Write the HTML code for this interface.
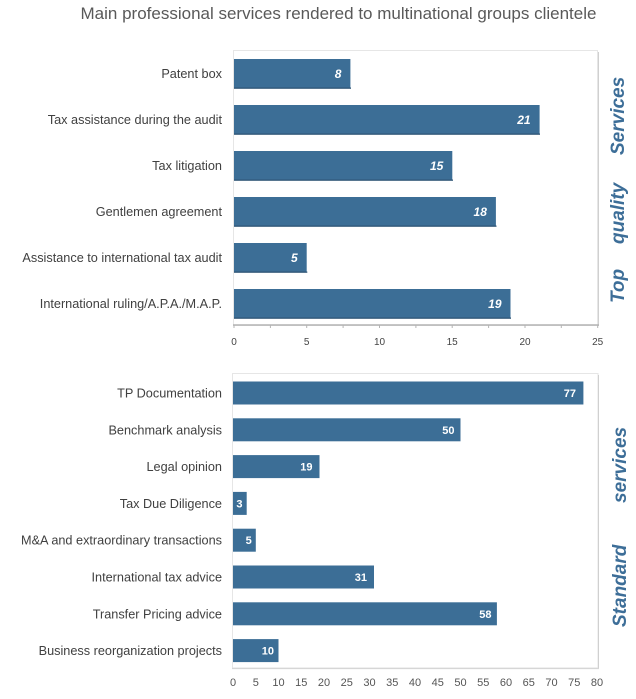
<!DOCTYPE html>
<html><head><meta charset="utf-8"><style>
html,body{margin:0;padding:0;background:#fff;}
svg{display:block;}
text{font-family:"Liberation Sans",Arial,sans-serif;}
</style></head><body>
<svg width="636" height="699" viewBox="0 0 636 699" xmlns="http://www.w3.org/2000/svg">
<rect width="636" height="699" fill="#fff"/>
<text x="338.5" y="19" font-size="17" fill="#595959" text-anchor="middle">Main professional services rendered to multinational groups clientele</text>

<!-- Top chart box -->
<rect x="233.5" y="50.5" width="364" height="275" fill="#fff" stroke="#e6e6e6" stroke-width="1"/>
<line x1="598.5" y1="52" x2="598.5" y2="326" stroke="#d0d0d0" stroke-width="1"/>
<line x1="233" y1="325" x2="599" y2="325" stroke="#b4b4b4" stroke-width="1.6"/>
<g stroke="#b4b4b4" stroke-width="1">
<line x1="234" y1="325" x2="234" y2="328"/>
<line x1="270.4" y1="325" x2="270.4" y2="328"/>
<line x1="306.7" y1="325" x2="306.7" y2="328"/>
<line x1="343.1" y1="325" x2="343.1" y2="328"/>
<line x1="379.5" y1="325" x2="379.5" y2="328"/>
<line x1="415.9" y1="325" x2="415.9" y2="328"/>
<line x1="452.2" y1="325" x2="452.2" y2="328"/>
<line x1="488.6" y1="325" x2="488.6" y2="328"/>
<line x1="525" y1="325" x2="525" y2="328"/>
<line x1="561.3" y1="325" x2="561.3" y2="328"/>
<line x1="597.7" y1="325" x2="597.7" y2="328"/>
</g>
<g font-size="10" fill="#444" text-anchor="middle">
<text x="234" y="345">0</text>
<text x="306.7" y="345">5</text>
<text x="379.5" y="345">10</text>
<text x="452.2" y="345">15</text>
<text x="525" y="345">20</text>
<text x="597.7" y="345">25</text>
</g>

<g fill="#3c6e96">
<rect x="234" y="59" width="116.4" height="29"/>
<rect x="234" y="105" width="305.6" height="29"/>
<rect x="234" y="151" width="218.3" height="29"/>
<rect x="234" y="197" width="261.9" height="29"/>
<rect x="234" y="243" width="72.7" height="29"/>
<rect x="234" y="289" width="276.5" height="29"/>
</g>
<g fill="#2e5475">
<rect x="234" y="87.5" width="117" height="1.3"/>
<rect x="234" y="133.5" width="306" height="1.3"/>
<rect x="234" y="179.5" width="219" height="1.3"/>
<rect x="234" y="225.5" width="262.5" height="1.3"/>
<rect x="234" y="271.5" width="73.3" height="1.3"/>
<rect x="234" y="317.5" width="277" height="1.3"/>
</g>
<g font-size="12" font-weight="bold" font-style="italic" fill="#fff" text-anchor="end">
<text x="341.4" y="78">8</text>
<text x="530.6" y="124">21</text>
<text x="443.3" y="170">15</text>
<text x="486.9" y="216">18</text>
<text x="297.7" y="262">5</text>
<text x="501.5" y="308">19</text>
</g>
<g font-size="12.7" fill="#404040" text-anchor="end">
<text x="222" y="78">Patent box</text>
<text x="222" y="124">Tax assistance during the audit</text>
<text x="222" y="170">Tax litigation</text>
<text x="222" y="216">Gentlemen agreement</text>
<text x="222" y="262">Assistance to international tax audit</text>
<text x="222" y="308">International ruling/A.P.A./M.A.P.</text>
</g>

<g font-size="19" font-weight="bold" font-style="italic" fill="#3d6e98">
<text transform="translate(624,303) rotate(-90)">Top</text>
<text transform="translate(624,244) rotate(-90)">quality</text>
<text transform="translate(624,155) rotate(-90)">Services</text>
<text transform="translate(626,627) rotate(-90)">Standard</text>
<text transform="translate(626,503) rotate(-90)">services</text>
</g>

<!-- Bottom chart box -->
<rect x="232.5" y="373.5" width="365.5" height="294.5" fill="#fff" stroke="#e6e6e6" stroke-width="1"/>
<line x1="598.5" y1="375" x2="598.5" y2="669" stroke="#d0d0d0" stroke-width="1"/>
<line x1="232" y1="668.5" x2="599" y2="668.5" stroke="#d6d6d6" stroke-width="1.2"/>

<g fill="#3c6e96">
<rect x="233" y="381.5" width="350.4" height="23"/>
<rect x="233" y="418.3" width="227.5" height="23"/>
<rect x="233" y="455.1" width="86.5" height="23"/>
<rect x="233" y="491.9" width="13.7" height="23"/>
<rect x="233" y="528.7" width="22.8" height="23"/>
<rect x="233" y="565.5" width="141" height="23"/>
<rect x="233" y="602.3" width="263.9" height="23"/>
<rect x="233" y="639.1" width="45.5" height="23"/>
</g>
<g font-size="11" font-weight="bold" fill="#fff" text-anchor="end">
<text x="576" y="397">77</text>
<text x="454.5" y="433.8">50</text>
<text x="312.5" y="470.6">19</text>
<text x="242.5" y="507.4">3</text>
<text x="251.7" y="544.2">5</text>
<text x="367" y="581">31</text>
<text x="491.5" y="617.8">58</text>
<text x="274" y="654.6">10</text>
</g>
<g font-size="12.7" fill="#404040" text-anchor="end">
<text x="222" y="397.5">TP Documentation</text>
<text x="222" y="434.3">Benchmark analysis</text>
<text x="222" y="471.1">Legal opinion</text>
<text x="222" y="507.9">Tax Due Diligence</text>
<text x="222" y="544.7">M&amp;A and extraordinary transactions</text>
<text x="222" y="581.5">International tax advice</text>
<text x="222" y="618.3">Transfer Pricing advice</text>
<text x="222" y="655.1">Business reorganization projects</text>
</g>
<g font-size="11" fill="#555" text-anchor="middle">
<text x="233" y="686">0</text>
<text x="255.75" y="686">5</text>
<text x="278.5" y="686">10</text>
<text x="301.25" y="686">15</text>
<text x="324" y="686">20</text>
<text x="346.75" y="686">25</text>
<text x="369.5" y="686">30</text>
<text x="392.25" y="686">35</text>
<text x="415" y="686">40</text>
<text x="437.75" y="686">45</text>
<text x="460.5" y="686">50</text>
<text x="483.25" y="686">55</text>
<text x="506" y="686">60</text>
<text x="528.75" y="686">65</text>
<text x="551.5" y="686">70</text>
<text x="574.25" y="686">75</text>
<text x="597" y="686">80</text>
</g>
</svg>
</body></html>
